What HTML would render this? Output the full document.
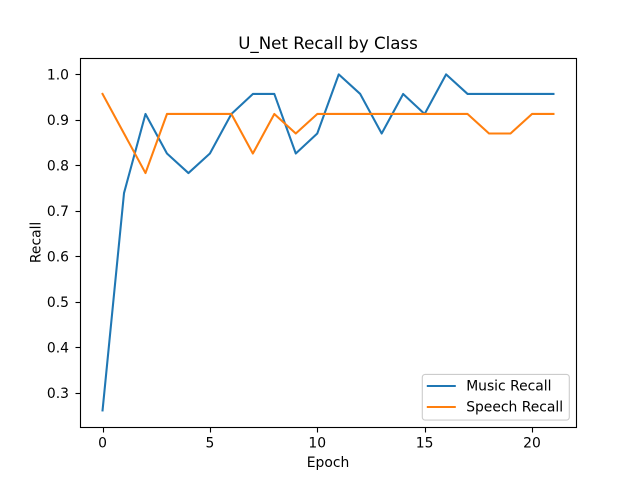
<!DOCTYPE html>
<html lang="en">
<head>
<meta charset="utf-8">
<title>U_Net Recall by Class</title>
<style>
html,body{margin:0;padding:0;background:#fff;width:640px;height:480px;overflow:hidden}
svg{display:block}
text{font-family:"DejaVu Sans",sans-serif;fill:#000}
</style>
</head>
<body>
<svg id="chart" xmlns="http://www.w3.org/2000/svg" width="640" height="480" viewBox="0 0 640 480">
<rect x="0" y="0" width="640" height="480" fill="#fff"/>
<rect x="80" y="57.6" width="496" height="369.6" fill="#fff"/>
<g id="ticks"></g>
<g id="series"></g>
<rect x="80.5" y="58.5" width="496" height="369" fill="none" stroke="#000" stroke-width="1.11"/>
<text x="328" y="49" font-size="16.67" text-anchor="middle">U_Net Recall by Class</text>
<text x="328" y="467" font-size="13.89" text-anchor="middle">Epoch</text>
<text transform="translate(40.5 242.4) rotate(-90)" font-size="13.89" text-anchor="middle">Recall</text>
<g>
<rect x="422.3" y="374.4" width="147" height="45.7" rx="2.8" ry="2.8" fill="#fff" fill-opacity="0.8" stroke="#ccc" stroke-width="1.11"/>
<line x1="426.8" y1="386" x2="455.8" y2="386" stroke="#1f77b4" stroke-width="2.08"/>
<text x="466.2" y="390.6" font-size="13.89">Music Recall</text>
<line x1="426.8" y1="407" x2="455.8" y2="407" stroke="#ff7f0e" stroke-width="2.08"/>
<text x="466.2" y="411.6" font-size="13.89">Speech Recall</text>
</g>
</svg>
<script>
const epochs = [0,1,2,3,4,5,6,7,8,9,10,11,12,13,14,15,16,17,18,19,20,21];
const musicRecall = [0.261,0.739,0.913,0.826,0.783,0.826,0.913,0.957,0.957,0.826,0.870,1.0,0.957,0.870,0.957,0.913,1.0,0.957,0.957,0.957,0.957,0.957];
const speechRecall = [0.957,0.870,0.783,0.913,0.913,0.913,0.913,0.826,0.913,0.870,0.913,0.913,0.913,0.913,0.913,0.913,0.913,0.913,0.870,0.870,0.913,0.913];
const xTickLabels = [0,5,10,15,20];
const yTickLabels = [0.3,0.4,0.5,0.6,0.7,0.8,0.9,1.0];

const NS = 'http://www.w3.org/2000/svg';
const plot = {left: 80, right: 576, top: 57.6, bottom: 427.2};
const allY = musicRecall.concat(speechRecall);
const allX = epochs;
const xMinD = Math.min.apply(null, allX), xMaxD = Math.max.apply(null, allX);
const yMinD = Math.min.apply(null, allY), yMaxD = Math.max.apply(null, allY);
const xPad = (xMaxD - xMinD) * 0.05, yPad = (yMaxD - yMinD) * 0.05;
function xScale(v) {
  return plot.left + (v - (xMinD - xPad)) / ((xMaxD + xPad) - (xMinD - xPad)) * (plot.right - plot.left);
}
function yScale(v) {
  return plot.bottom - (v - (yMinD - yPad)) / ((yMaxD + yPad) - (yMinD - yPad)) * (plot.bottom - plot.top);
}
function snap(v) {
  return Math.floor(v + 0.5) + 0.5;
}
const ticksG = document.getElementById('ticks');
const seriesG = document.getElementById('series');
function make(tag, attrs, parent) {
  const el = document.createElementNS(NS, tag);
  for (const k in attrs) el.setAttribute(k, attrs[k]);
  parent.appendChild(el);
  return el;
}
xTickLabels.forEach(function (t) {
  const x = xScale(t);
  const mark = make('line', {x1: snap(x), x2: snap(x), y1: 427.5, y2: 432.5, stroke: '#000', 'stroke-width': 1.11}, ticksG);
  
  
  const label = make('text', {x: x, y: plot.bottom + 20.5, 'font-size': 13.89, 'text-anchor': 'middle'}, ticksG);
  label.textContent = String(t);
  
  
});
yTickLabels.forEach(function (t) {
  const y = yScale(t);
  const mark = make('line', {x1: 75.5, x2: 80.5, y1: snap(y), y2: snap(y), stroke: '#000', 'stroke-width': 1.11}, ticksG);
  
  
  const label = make('text', {x: plot.left - 11, y: y + 5.1, 'font-size': 13.89, 'text-anchor': 'end'}, ticksG);
  label.textContent = t.toFixed(1);
  
  
});
function drawLine(values, color) {
  const pts = values.map(function (v, i) { return xScale(epochs[i]).toFixed(2) + ',' + yScale(v).toFixed(2); }).join(' ');
  return make('polyline', {points: pts, fill: 'none', stroke: color, 'stroke-width': 2.08, 'stroke-linejoin': 'round', 'stroke-linecap': 'square'}, seriesG);
}
const musicLine = drawLine(musicRecall, '#1f77b4');


const speechLine = drawLine(speechRecall, '#ff7f0e');


</script>
</body>
</html>
